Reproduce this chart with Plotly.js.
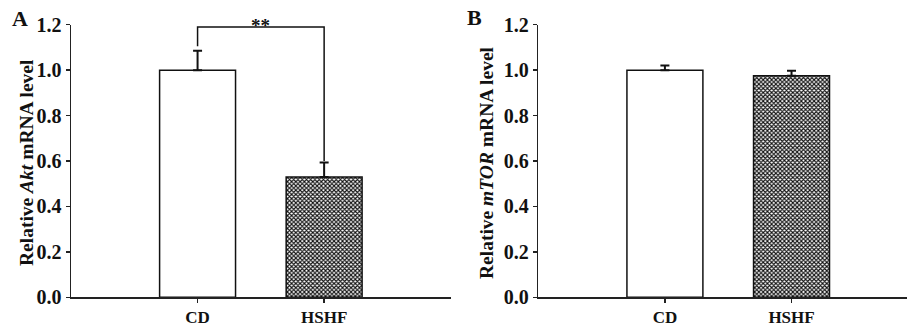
<!DOCTYPE html>
<html>
<head>
<meta charset="utf-8">
<script src="https://cdn.plot.ly/plotly-3.0.1.min.js"></script>
<style>html,body{margin:0;padding:0;background:#fff;}#chart{width:907px;height:330px;}</style>
</head>
<body>
<div id="chart"></div>
<script>
// ---- data ----
const categories = ["CD", "HSHF"];
const aktValues = [1.00, 0.53];
const aktErrors = [0.085, 0.063];
const mtorValues = [1.00, 0.975];
const mtorErrors = [0.02, 0.022];
const yTickVals = [0, 0.2, 0.4, 0.6, 0.8, 1.0, 1.2];
const yTickText = ["0.0", "0.2", "0.4", "0.6", "0.8", "1.0", "1.2"];
const yTitles = ["<b>Relative <i>Akt</i> mRNA level</b>", "<b>Relative <i>mTOR</i> mRNA level</b>"];
const panelLabels = ["A", "B"];
const bracketTop = 1.19;
const bracketEnds = [1.105, 0.60];
const sigLabel = "**";

const FONT = "Liberation Serif, Times New Roman, serif";
const patternShapes = ["", "x"];

function barTraces(vals, errs, xa, ya) {
  return categories.map((c, i) => ({
    type: "bar", x: [c], y: [vals[i]], xaxis: xa, yaxis: ya, width: 0.6,
    marker: {
      color: "white",
      line: {color: "#111", width: 1.5},
      pattern: {shape: patternShapes[i], fgcolor: "#111", bgcolor: "white", size: 3, solidity: 0.6, fillmode: "replace"}
    },
    error_y: {type: "data", symmetric: false, array: [errs[i]], arrayminus: [0],
              color: "#111", thickness: 2, width: 4.5},
    hoverinfo: "skip", showlegend: false
  }));
}

const traces = [
  ...barTraces(aktValues, aktErrors, "x", "y"),
  ...barTraces(mtorValues, mtorErrors, "x2", "y2"),
  {type: "scatter", mode: "lines", xaxis: "x", yaxis: "y",
   x: [categories[0], categories[0], categories[1], categories[1]],
   y: [bracketEnds[0], bracketTop, bracketTop, bracketEnds[1]],
   line: {color: "#111", width: 1.5}, showlegend: false, hoverinfo: "skip"}
];

const yDom = [1 - 297.3/330, 1 - 24.7/330];
function yAxis(anchor) {
  return {
    domain: yDom, range: [0, 1.2], anchor: anchor,
    tickvals: yTickVals, ticktext: yTickText,
    ticks: "outside", ticklen: 4, tickwidth: 1.5, tickcolor: "#222",
    showline: true, linecolor: "#222", linewidth: 1.5,
    showgrid: false, zeroline: false, automargin: false,
    tickfont: {family: FONT, size: 20, color: "#111", weight: "bold"}
  };
}
function xAxis(domain, range, anchor) {
  return {
    domain: domain, range: range, anchor: anchor, type: "category",
    categoryarray: categories, categoryorder: "array",
    ticks: "outside", ticklen: 4, tickwidth: 1.5, tickcolor: "#222",
    showline: true, linecolor: "#222", linewidth: 1.5,
    showgrid: false, zeroline: false, automargin: false,
    tickfont: {family: FONT, size: 17, color: "#111", weight: "bold"}
  };
}

const titleX = [26, 486];
const labelX = [10, 465];
const annotations = [
  {xref: "x", yref: "y", x: 0.5, y: bracketTop, text: "<b>" + sigLabel + "</b>", showarrow: false,
   yanchor: "bottom", yshift: -11, font: {family: FONT, size: 19, color: "#111"}}
];
yTitles.forEach((t, i) => annotations.push({
  xref: "paper", yref: "paper", x: titleX[i] / 907, y: 1 - 163 / 330,
  xanchor: "center", yanchor: "middle", textangle: -90, text: t, showarrow: false,
  font: {family: FONT, size: 19.5, color: "#111"}
}));
panelLabels.forEach((t, i) => annotations.push({
  xref: "paper", yref: "paper", x: labelX[i] / 907, y: 1 - (i === 0 ? 4 : 3) / 330,
  xanchor: "left", yanchor: "top", text: "<b>" + t + "</b>", showarrow: false,
  font: {family: FONT, size: 22, color: "#111"}
}));

const layout = {
  width: 907, height: 330,
  margin: {l: 0, r: 0, t: 0, b: 0},
  paper_bgcolor: "white", plot_bgcolor: "white",
  showlegend: false, barmode: "overlay",
  xaxis: xAxis([71/907, 450.7/907], [-1.0, 2.0], "y"),
  yaxis: yAxis("x"),
  xaxis2: xAxis([538.3/907, 1], [-1.0, 1.912], "y2"),
  yaxis2: yAxis("x2"),
  annotations: annotations
};

Plotly.newPlot("chart", traces, layout, {displayModeBar: false, staticPlot: true});
</script>
</body>
</html>
